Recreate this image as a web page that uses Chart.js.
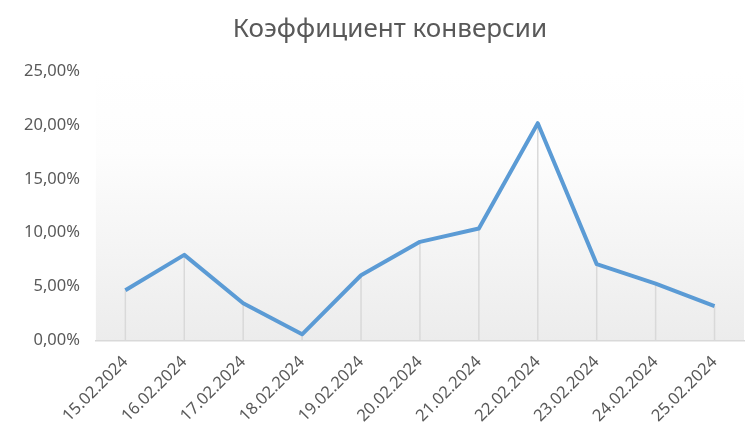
<!DOCTYPE html>
<html>
<head>
<meta charset="utf-8">
<script src="https://cdn.jsdelivr.net/npm/chart.js@4.4.1/dist/chart.umd.min.js"></script>
<style>
  html, body { margin: 0; padding: 0; background: #ffffff; }
  #box { width: 751px; height: 440px; }
</style>
</head>
<body>
<div id="box"><canvas id="chart"></canvas></div>
<script>
const chartTitle = "Коэффициент конверсии";
const dates = [
  "15.02.2024", "16.02.2024", "17.02.2024", "18.02.2024", "19.02.2024", "20.02.2024",
  "21.02.2024", "22.02.2024", "23.02.2024", "24.02.2024", "25.02.2024",
];
const conversion = [4.66, 7.94, 3.44, 0.56, 6.05, 9.15, 10.39, 20.17, 7.08, 5.27, 3.19];
const yTicks = [0, 5, 10, 15, 20, 25];

const textColor = "#595959";
const fontName = "'Noto Sans', 'Open Sans', sans-serif";

// soft grey fade at the bottom of the plot area
const plotBackground = {
  id: "plotBackground",
  beforeDraw(chart) {
    const { ctx, chartArea } = chart;
    const grad = ctx.createLinearGradient(0, chartArea.top, 0, chartArea.bottom);
    grad.addColorStop(0, "#ffffff");
    grad.addColorStop(0.3, "#fdfdfd");
    grad.addColorStop(1, "#ececec");
    ctx.save();
    ctx.fillStyle = grad;
    ctx.fillRect(chartArea.left, chartArea.top, chartArea.right - chartArea.left, chartArea.bottom - chartArea.top);
    ctx.restore();
  },
};

// vertical drop lines from each point down to the axis
const dropLines = {
  id: "dropLines",
  beforeDatasetsDraw(chart) {
    const { ctx } = chart;
    const yBase = chart.scales.y.getPixelForValue(0);
    const meta = chart.getDatasetMeta(0);
    ctx.save();
    ctx.strokeStyle = "#d9d9d9";
    ctx.lineWidth = 1.5;
    meta.data.forEach((pt) => {
      ctx.beginPath();
      ctx.moveTo(pt.x, pt.y);
      ctx.lineTo(pt.x, yBase);
      ctx.stroke();
    });
    ctx.restore();
  },
};

// the original title sits a little right of the canvas centre
const titleNudge = {
  id: "titleNudge",
  afterLayout(chart) {
    if (chart.titleBlock) {
      chart.titleBlock.left += 28;
    }
  },
};

const myChart = new Chart(document.getElementById("chart"), {
  type: "line",
  plugins: [plotBackground, dropLines, titleNudge],
  data: {
    labels: dates,
    datasets: [
      {
        data: conversion,
        borderColor: "#5b9bd5",
        borderWidth: 4,
        pointRadius: 0,
        tension: 0,
        borderJoinStyle: "round",
      },
    ],
  },
  options: {
    responsive: true,
    maintainAspectRatio: false,
    animation: false,
    layout: { padding: { left: 8, right: 7, top: 0, bottom: 2 } },
    plugins: {
      legend: { display: false },
      tooltip: { enabled: false },
      title: {
        display: true,
        text: chartTitle,
        color: textColor,
        font: { family: fontName, size: 26, weight: "normal" },
        padding: { top: 14, bottom: 26 },
      },
    },
    scales: {
      x: {
        offset: true,
        grid: { display: false, drawTicks: false },
        border: { display: true, color: "#d9d9d9", width: 1.5 },
        ticks: {
          color: textColor,
          font: { family: fontName, size: 16.5 },
          minRotation: 45,
          maxRotation: 45,
          padding: 12,
        },
      },
      y: {
        min: 0,
        max: 25,
        afterBuildTicks(scale) {
          scale.ticks = yTicks.map((v) => ({ value: v }));
        },
        grid: { display: false, drawTicks: false },
        border: { display: false },
        ticks: {
          color: textColor,
          font: { family: fontName, size: 16.5 },
          padding: 16,
          callback: (v) => v.toFixed(2).replace(".", ",") + "%",
        },
      },
    },
  },
});
</script>
</body>
</html>
